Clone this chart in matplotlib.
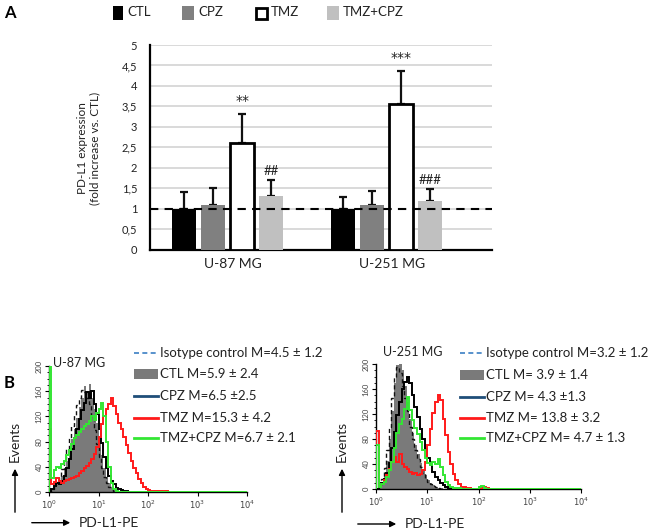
import numpy as np
import matplotlib
matplotlib.use("Agg")
import matplotlib.pyplot as plt
from matplotlib.patches import Rectangle, FancyArrowPatch
from matplotlib.lines import Line2D
from matplotlib.ticker import MultipleLocator, LogLocator, NullFormatter

plt.rcParams['font.family'] = ['Lato', 'DejaVu Sans']

# ---------------- Panel A data ----------------
cell_lines = ["U-87 MG", "U-251 MG"]
treatments = ["CTL", "CPZ", "TMZ", "TMZ+CPZ"]
means = {
    "CTL": [1.0, 1.0],
    "CPZ": [1.1, 1.1],
    "TMZ": [2.6, 3.56],
    "TMZ+CPZ": [1.3, 1.18],
}
errors = {
    "CTL": [0.4, 0.28],
    "CPZ": [0.4, 0.32],
    "TMZ": [0.71, 0.81],
    "TMZ+CPZ": [0.4, 0.31],
}
stars = {"TMZ": ["**", "***"], "TMZ+CPZ": ["##", "###"]}
ytick_vals = [0, 0.5, 1, 1.5, 2, 2.5, 3, 3.5, 4, 4.5, 5]
ytick_labels = ["0", "0,5", "1", "1,5", "2", "2,5", "3", "3,5", "4", "4,5", "5"]

# ---------------- Panel B data (counts per 0.05-decade channel from 10^0) ----------------
u87_iso = [0, 4, 10, 16, 24, 36, 50, 68, 86, 104, 122, 138, 150, 162, 158, 150, 140, 120,
           98, 76, 56, 38, 24, 14, 8, 4, 2, 0]
u87_ctl = [0, 3, 8, 12, 18, 26, 38, 50, 66, 84, 100, 118, 135, 150, 168, 160, 172, 150,
           132, 110, 82, 58, 38, 24, 14, 7, 3, 1, 0]
u87_cpz = [0, 4, 10, 14, 12, 18, 25, 38, 52, 68, 86, 100, 116, 130, 142, 158, 150, 160,
           140, 124, 100, 78, 56, 38, 26, 17, 12, 7, 5, 3, 2, 1, 0]
u87_tmz = [100, 12, 16, 22, 18, 15, 17, 19, 20, 22, 24, 26, 30, 33, 38, 42, 46, 52, 60,
           72, 88, 108, 120, 132, 140, 150, 136, 124, 110, 100, 88, 74, 62, 50, 38, 30,
           20, 14, 8, 5, 3, 2, 2, 1, 2, 1, 0, 1, 0]
u87_tmzcpz = [260, 22, 35, 40, 38, 44, 50, 58, 66, 76, 85, 90, 96, 100, 104, 108, 112,
              120, 114, 126, 132, 142, 120, 80, 40, 14, 4, 1, 0]

u251_iso = [0, 6, 16, 34, 62, 100, 145, 180, 195, 185, 165, 145, 125, 100, 80, 62, 48,
            36, 26, 18, 12, 8, 5, 3, 1, 0]
u251_ctl = [0, 4, 10, 24, 45, 80, 125, 170, 198, 205, 190, 165, 140, 112, 90, 70, 56,
            42, 32, 22, 15, 10, 6, 4, 2, 1, 0]
u251_cpz = [0, 6, 10, 16, 26, 42, 66, 92, 118, 140, 160, 172, 180, 170, 150, 132, 116,
            96, 80, 64, 50, 38, 28, 20, 14, 9, 6, 4, 2, 1, 0]
u251_tmz = [93, 5, 8, 14, 22, 32, 44, 52, 44, 56, 40, 36, 32, 28, 24, 26, 22, 24, 30,
            44, 70, 96, 122, 140, 150, 142, 112, 86, 60, 40, 24, 14, 8, 4, 3, 2, 1, 0,
            0, 0, 0, 2, 3, 1, 0]
u251_tmzcpz = [70, 4, 8, 12, 20, 30, 44, 66, 90, 104, 112, 128, 148, 126, 110, 98, 88,
               76, 62, 50, 42, 38, 44, 40, 48, 36, 22, 12, 6, 3, 1, 2, 1, 0, 0, 0, 0, 0,
               0, 0, 3, 5, 1, 0]

hist_ticks = [1, 10, 100, 1000, 10000]
hist_tick_labels = ["$10^0$", "$10^1$", "$10^2$", "$10^3$", "$10^4$"]
legend_u87 = ["Isotype control M=4.5 \u00b1 1.2", "CTL M=5.9 \u00b1 2.4", "CPZ M=6.5 \u00b12.5",
              "TMZ M=15.3 \u00b1 4.2", "TMZ+CPZ M=6.7 \u00b1 2.1"]
legend_u251 = ["Isotype control M=3.2 \u00b1 1.2", "CTL M= 3.9 \u00b1 1.4", "CPZ M= 4.3 \u00b11.3",
               "TMZ M= 13.8 \u00b1 3.2", "TMZ+CPZ M= 4.7 \u00b1 1.3"]

# ---------------- figure ----------------
W, H = 656, 532
fig = plt.figure(figsize=(W / 100, H / 100), dpi=100)


def fx(x):
    return x / W


def fy(y):
    return 1 - y / H


def axrect(x0, y0, x1, y1):
    return [fx(x0), fy(y1), fx(x1) - fx(x0), fy(y0) - fy(y1)]


# ---------------- Panel A ----------------
axA = fig.add_axes(axrect(149.7, 45, 491.7, 249.5))
face = {"CTL": "#000000", "CPZ": "#808080", "TMZ": "#ffffff", "TMZ+CPZ": "#c0c0c0"}
edge = {"CTL": "#000000", "CPZ": "#808080", "TMZ": "#000000", "TMZ+CPZ": "#c0c0c0"}
lw = {"CTL": 0, "CPZ": 0, "TMZ": 2.0, "TMZ+CPZ": 0}
xc = np.arange(len(cell_lines))
step = 0.183
bw = 0.152
for i, t in enumerate(treatments):
    xs = xc + (i - 1.5) * step
    axA.bar(xs, means[t], width=bw, color=face[t], edgecolor=edge[t], linewidth=lw[t], zorder=3)
    axA.errorbar(xs, means[t], yerr=[np.zeros(2), errors[t]], fmt='none', ecolor='#111111',
                 elinewidth=1.6, capsize=3, capthick=1.6, zorder=2)
    if t in stars:
        for j in range(2):
            top = means[t][j] + errors[t][j]
            if t == "TMZ":
                axA.annotate(stars[t][j], (xs[j], top), xytext=(0, 4.5), textcoords='offset points',
                             ha='center', va='bottom', fontsize=10, color='#222222',
                             family=['DejaVu Sans'])
            else:
                axA.annotate(stars[t][j], (xs[j], top), xytext=(0, 6.5), textcoords='offset points',
                             ha='center', va='center', fontsize=9.5, color='#222222')
axA.axhline(1, color='black', lw=1.5, ls=(0, (4, 3)), zorder=5)
axA.set_ylim(0, 5)
axA.set_xlim(-0.49, 1.66)
axA.set_yticks(ytick_vals)
axA.set_yticklabels(ytick_labels, fontsize=8, color='#222222')
axA.yaxis.grid(True, color='#d9d9d9', lw=1.4, zorder=0)
axA.set_axisbelow(True)
axA.tick_params(axis='y', length=0, pad=9)
axA.set_xticks(xc + 0.036)
axA.set_xticklabels(cell_lines, fontsize=10, color='#222222')
axA.tick_params(axis='x', length=0, pad=6)
for s in ['top', 'right']:
    axA.spines[s].set_visible(False)
axA.spines['left'].set_linewidth(1.6)
axA.spines['bottom'].set_linewidth(1.6)

fig.text(fx(88.5), fy(148), "PD-L1 expression\n(fold increase vs. CTL)", rotation=90,
         ha='center', va='center', fontsize=8.5, color='#222222', linespacing=1.15)
fig.text(fx(4), fy(13), "A", fontsize=12, fontweight='bold', ha='left', va='center')

# legend A
leg_x = [112.7, 181.7, 254.5, 326.7]
for t, x0 in zip(treatments, leg_x):
    if t == "TMZ":
        r = Rectangle((fx(x0 + 1), fy(18.5)), fx(11.5), fy(7.5) - fy(18.5), transform=fig.transFigure,
                      facecolor='white', edgecolor='black', lw=2.0)
    else:
        w = 10 if t == "CTL" else 12
        r = Rectangle((fx(x0), fy(19.5)), fx(w), fy(6.5) - fy(19.5), transform=fig.transFigure,
                      facecolor=face[t], edgecolor='none')
    fig.add_artist(r)
    tx = x0 + (14.5 if t == "CTL" else 16.5)
    fig.text(fx(tx), fy(12.5), t, fontsize=9.5, ha='left', va='center', color='#222222')

# ---------------- Panel B ----------------
fig.text(fx(4), fy(383), "B", fontsize=12, fontweight='bold', ha='left', va='center')

col_red = '#ff1a1a'
col_green = '#33e633'
NB = 80


def pad(v):
    return list(v) + [0] * (NB - len(v))


edges = 10 ** (np.arange(NB + 1) * 0.05)


def hist_panel(rect, iso, ctl, cpz, tmz, tmzcpz, title, title_xy, leg_texts, leg_x, leg_rows,
               events_x, pe_y, pe_x0):
    ax = fig.add_axes(axrect(*rect))
    ax.stairs(pad(ctl), edges, fill=True, color='#7a7a7a', zorder=1)
    ax.stairs(pad(iso), edges, color='#111111', lw=1.0, ls=(0, (3, 2)), zorder=2)
    ax.stairs(pad(cpz), edges, color='#000000', lw=1.4, zorder=3)
    ax.stairs(pad(tmz), edges, color=col_red, lw=1.4, zorder=4)
    ax.stairs(pad(tmzcpz), edges, color=col_green, lw=1.4, zorder=5)
    ax.set_xscale('log')
    ax.set_xlim(1, 10000)
    ax.set_ylim(0, 200)
    ax.set_xticks(hist_ticks)
    ax.set_xticklabels(hist_tick_labels, fontsize=6, color='#444444')
    ax.xaxis.set_minor_locator(LogLocator(base=10, subs=np.arange(2, 10)))
    ax.xaxis.set_minor_formatter(NullFormatter())
    ax.set_yticks([0, 40, 80, 120, 160, 200])
    ax.set_yticklabels(["0", "40", "80", "120", "160", "200"], fontsize=5.5, color='#444444',
                       rotation=90, va='center')
    ax.yaxis.set_minor_locator(MultipleLocator(10))
    ax.tick_params(which='major', length=3, width=0.8, pad=1.5)
    ax.tick_params(which='minor', length=1.8, width=0.6)
    for s in ['top', 'right']:
        ax.spines[s].set_visible(False)
    ax.spines['left'].set_linewidth(1.0)
    ax.spines['bottom'].set_linewidth(1.0)
    fig.text(fx(title_xy[0]), fy(title_xy[1]), title, fontsize=9, ha='left', va='center', color='#222222')
    # legend
    for k, (txt, yy) in enumerate(zip(leg_texts, leg_rows)):
        x0, x1 = leg_x, leg_x + 24
        if k == 0:
            fig.add_artist(Line2D([fx(x0), fx(x1)], [fy(yy), fy(yy)], transform=fig.transFigure,
                                  color='#3b7fc4', lw=1.2, ls=(0, (3, 2))))
        elif k == 1:
            fig.add_artist(Rectangle((fx(x0), fy(yy + 5)), fx(24), fy(yy - 5) - fy(yy + 5),
                                     transform=fig.transFigure, facecolor='#7a7a7a', edgecolor='none'))
        else:
            c = ['#1f4e79', col_red, col_green][k - 2]
            fig.add_artist(Line2D([fx(x0), fx(x1)], [fy(yy), fy(yy)], transform=fig.transFigure,
                                  color=c, lw=2.0))
        fig.text(fx(x1 + 2), fy(yy), txt, fontsize=9.5, ha='left', va='center', color='#222222')
    # axis arrows
    fig.add_artist(FancyArrowPatch((fx(events_x), fy(515)), (fx(events_x), fy(466)),
                                   transform=fig.transFigure, arrowstyle='-|>',
                                   mutation_scale=9, color='black', lw=1.0))
    fig.text(fx(events_x), fy(441), "Events", rotation=90, fontsize=10, ha='center', va='center',
             color='#222222')
    fig.add_artist(FancyArrowPatch((fx(pe_x0), fy(pe_y)), (fx(pe_x0 + 44), fy(pe_y)),
                                   transform=fig.transFigure, arrowstyle='-|>',
                                   mutation_scale=9, color='black', lw=1.0))
    fig.text(fx(pe_x0 + 50), fy(pe_y), "PD-L1-PE", fontsize=10, ha='left', va='center', color='#222222')
    return ax


hist_panel((49, 366, 247, 492), u87_iso, u87_ctl, u87_cpz, u87_tmz, u87_tmzcpz, "U-87 MG", (53, 363),
           legend_u87, 134, [352.7, 374, 396, 418, 437.7], 15, 522.7, 29)
hist_panel((376, 364, 581, 489), u251_iso, u251_ctl, u251_cpz, u251_tmz, u251_tmzcpz, "U-251 MG", (383, 352),
           legend_u251, 460, [352.7, 375, 396.7, 418, 438], 342, 524, 355)

fig.savefig("out.png", dpi=100)
